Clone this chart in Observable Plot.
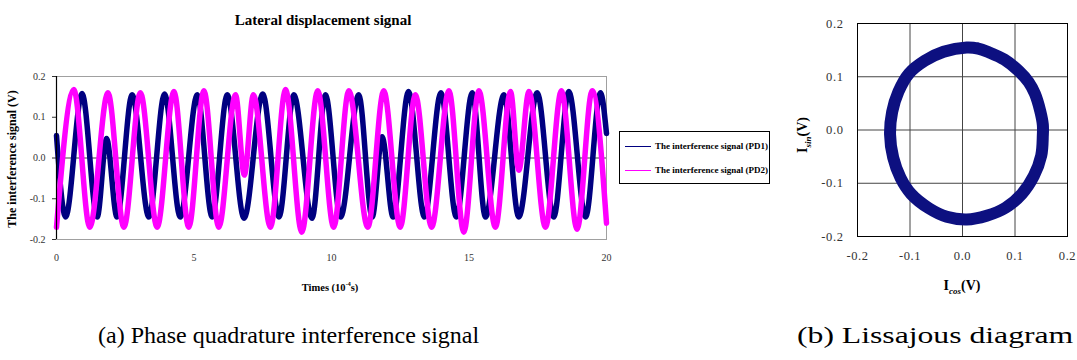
<!DOCTYPE html>
<html><head><meta charset="utf-8">
<script src="https://cdn.jsdelivr.net/npm/d3@7"></script>
<script src="https://cdn.jsdelivr.net/npm/@observablehq/plot@0.6"></script>
<style>
body{margin:0;background:#fff;}
#wrap{position:relative;width:1077px;height:360px;font-family:"Liberation Serif","Times New Roman",serif;overflow:hidden;background:#fff}
#wrap svg text{font-family:"Liberation Serif","Times New Roman",serif}
.abs{position:absolute;white-space:nowrap;color:#000}
</style></head><body><div id="wrap"></div>
<script>
// ---- Data ----
const chartTitle = "Lateral displacement signal";
const seriesNames = ["The interference signal (PD1)", "The interference signal (PD2)"];
const seriesColors = ["#000080", "#ff00ff"];
const timeTicks = [0, 5, 10, 15, 20];
const signalTicks = [-0.2, -0.1, 0, 0.1, 0.2];
const lissTicks = [-0.2, -0.1, 0, 0.1, 0.2];

// PD1 extrema (time in 10^-4 s, volts)
const pd1Time = [0, 0.33, 0.93, 1.48, 1.82, 2.2, 2.75, 3.36, 3.93, 4.5, 5.12, 5.66, 6.21, 6.82, 7.5, 8.09, 8.63, 9.29, 9.78, 10.33, 10.99, 11.48, 11.84, 12.24, 12.8, 13.38, 13.98, 14.54, 15.12, 15.6, 16.27, 16.81, 17.48, 18.08, 18.63, 19.24, 19.78, 20];
const pd1Value = [0.055, -0.145, 0.158, -0.145, 0.048, -0.145, 0.155, -0.145, 0.157, -0.145, 0.155, -0.145, 0.155, -0.148, 0.157, -0.145, 0.155, -0.148, 0.155, -0.145, 0.155, -0.145, 0.052, -0.145, 0.163, -0.145, 0.16, -0.145, 0.16, -0.145, 0.155, -0.145, 0.16, -0.145, 0.163, -0.145, 0.16, 0.06];
// PD2 extrema
const pd2Time = [0, 0.63, 1.21, 1.87, 2.45, 3.05, 3.66, 4.27, 4.81, 5.36, 5.9, 6.51, 6.83, 7.16, 7.78, 8.33, 8.92, 9.5, 10.08, 10.63, 11.32, 11.9, 12.5, 13.05, 13.64, 14.27, 14.81, 15.36, 15.96, 16.51, 16.81, 17.18, 17.78, 18.36, 18.93, 19.48, 20];
const pd2Value = [-0.17, 0.168, -0.17, 0.16, -0.17, 0.16, -0.17, 0.163, -0.17, 0.165, -0.17, 0.155, -0.042, 0.155, -0.17, 0.168, -0.182, 0.165, -0.17, 0.165, -0.17, 0.165, -0.17, 0.155, -0.17, 0.165, -0.182, 0.165, -0.17, 0.163, -0.03, 0.163, -0.17, 0.165, -0.175, 0.165, -0.16];

// Lissajous ring (I_cos, I_sin) read around the loop
const lissX = [0.008, 0.030, 0.050, 0.080, 0.108, 0.126, 0.138, 0.148, 0.153, 0.153, 0.150, 0.136, 0.113, 0.082, 0.046, 0.008, -0.030, -0.064, -0.098, -0.118, -0.132, -0.138, -0.134, -0.122, -0.102, -0.072, -0.036];
const lissY = [0.155, 0.153, 0.146, 0.132, 0.110, 0.090, 0.068, 0.036, 0.010, -0.010, -0.048, -0.086, -0.120, -0.146, -0.161, -0.168, -0.163, -0.147, -0.120, -0.090, -0.052, -0.008, 0.034, 0.072, 0.106, 0.130, 0.147];

const captionA = "(a) Phase quadrature interference signal";
const captionB = "(b) Lissajous diagram";

// ---- Build ----
const wrap = document.getElementById("wrap");
const fmt = d => d.toFixed(1);
const pd1 = pd1Time.map((t, i) => ({t, v: pd1Value[i]}));
const pd2 = pd2Time.map((t, i) => ({t, v: pd2Value[i]}));
const liss = lissX.map((x, i) => ({x, y: lissY[i]}));
const serif = '"Liberation Serif", "Times New Roman", serif';

const chartA = Plot.plot({
  width: 620, height: 300,
  marginLeft: 56, marginRight: 14, marginTop: 76, marginBottom: 61,
  x: {domain: [0, 20], ticks: timeTicks, tickSize: 0, tickPadding: 14, label: null},
  y: {domain: [-0.2, 0.2], ticks: signalTicks, tickSize: 4, tickPadding: 7, tickFormat: fmt, label: null},
  style: {fontFamily: serif, fontSize: "10px", color: "#333", background: "transparent", overflow: "visible"},
  marks: [
    Plot.frame({stroke: "#a0a0a0"}),
    Plot.ruleY([0], {stroke: "#444", strokeWidth: 1.2}),
    Plot.line(pd1, {x: "t", y: "v", stroke: seriesColors[0], strokeWidth: 5.5, curve: "monotone-x"}),
    Plot.line(pd2, {x: "t", y: "v", stroke: seriesColors[1], strokeWidth: 5.5, curve: "monotone-x"}),
    Plot.ruleX([0], {stroke: "#000", strokeWidth: 1.2})
  ]
});
chartA.style.position = "absolute"; chartA.style.left = "0px"; chartA.style.top = "0px";
wrap.appendChild(chartA);

const chartB = Plot.plot({
  width: 307, height: 300,
  marginLeft: 87, marginRight: 10, marginTop: 23, marginBottom: 64,
  x: {domain: [-0.2, 0.2], ticks: lissTicks, tickFormat: fmt, tickSize: 0, tickPadding: 15, label: null},
  y: {domain: [-0.2, 0.2], ticks: lissTicks, tickFormat: fmt, tickSize: 0, tickPadding: 14, label: null},
  style: {fontFamily: serif, fontSize: "12.5px", color: "#333", background: "transparent", overflow: "visible", letterSpacing: "0.6px"},
  marks: [
    Plot.gridX(lissTicks, {stroke: "#444", strokeOpacity: 1}),
    Plot.gridY(lissTicks, {stroke: "#444", strokeOpacity: 1}),
    Plot.frame({stroke: "#000"}),
    Plot.line(liss, {x: "x", y: "y", curve: "catmull-rom-closed", stroke: "#0d1080", strokeWidth: 12, strokeLinejoin: "round"})
  ]
});
chartB.style.position = "absolute"; chartB.style.left = "770px"; chartB.style.top = "0px";
wrap.appendChild(chartB);

function addText(html, css) {
  const d = document.createElement("div");
  d.className = "abs";
  d.innerHTML = html;
  Object.assign(d.style, css);
  wrap.appendChild(d);
  return d;
}
// title
addText(chartTitle, {left: "323px", top: "20px", fontSize: "15px", fontWeight: "bold", transform: "translate(-50%,-50%)"});
// y-axis title (left)
addText("The interference signal (V)", {left: "12px", top: "159px", fontSize: "12px", fontWeight: "bold", transform: "translate(-50%,-50%) rotate(-90deg)"});
// x-axis title (left)
addText("Times (10<sup style='font-size:6px'>-4</sup>s)", {left: "330px", top: "287px", fontSize: "10.5px", fontWeight: "bold", transform: "translate(-50%,-50%)"});
// legend
const leg = document.createElement("div");
Object.assign(leg.style, {position: "absolute", left: "619px", top: "131px", width: "151px", height: "53px", border: "1px solid #000", boxSizing: "border-box", background: "#fff"});
wrap.appendChild(leg);
seriesNames.forEach((name, i) => {
  const row = document.createElement("div");
  Object.assign(row.style, {position: "absolute", left: "5px", top: (8 + i * 24) + "px", height: "12px", display: "flex", alignItems: "center", whiteSpace: "nowrap", fontSize: "9px", fontWeight: "bold"});
  row.innerHTML = `<span style="display:inline-block;width:26px;height:0;border-top:1.5px solid ${seriesColors[i]};margin-right:4px"></span>${name}`;
  leg.appendChild(row);
});
// right chart axis titles
addText("I<sub style='font-size:9px;font-style:italic'>cos</sub>(V)", {left: "962px", top: "287px", fontSize: "14px", fontWeight: "bold", transform: "translate(-50%,-50%)"});
addText("I<sub style='font-size:9px;font-style:italic'>sin</sub>(V)", {left: "804px", top: "135px", fontSize: "14px", fontWeight: "bold", transform: "translate(-50%,-50%) rotate(-90deg)"});
// captions
addText(captionA, {left: "98px", top: "322px", fontSize: "24px"});
addText(captionB, {left: "797px", top: "322px", fontSize: "24px", transform: "scaleX(1.32)", transformOrigin: "left center"});
</script>
</body></html>
